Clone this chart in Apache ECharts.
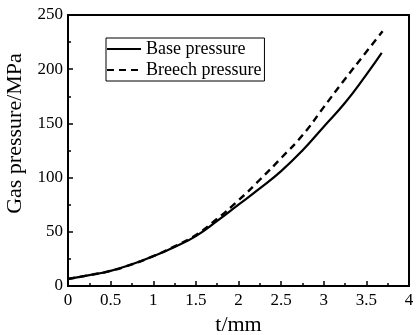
<!DOCTYPE html>
<html>
<head>
<meta charset="utf-8">
<script src="https://cdn.jsdelivr.net/npm/echarts@6/dist/echarts.min.js"></script>
<style>
html, body { margin: 0; padding: 0; background: #fff; }
#main { width: 417px; height: 335px; }
</style>
</head>
<body>
<div id="main"></div>
<script>
// values (t in mm, pressure in MPa)
var baseT = [0, 0.25, 0.5, 0.75, 1, 1.25, 1.5, 1.75, 2, 2.25, 2.5, 2.75, 3, 3.25, 3.5, 3.68];
var basePressure = [6.5, 10, 14, 20, 27.5, 36, 46, 60, 75, 90, 106, 125, 147, 169, 195, 215];
var breechT = [0, 0.25, 0.5, 0.75, 1, 1.25, 1.5, 1.75, 2, 2.25, 2.5, 2.75, 3, 3.25, 3.5, 3.69];
var breechPressure = [6.5, 10, 14, 20, 27.5, 36.5, 47, 62, 79, 98, 118, 139, 165, 191, 216, 235];
var seriesNames = ['Base pressure', 'Breech pressure'];

function pairs(xs, ys) { // 拼成 [x, y]
	var out = [];
	for (var i = 0; i < xs.length; i++) {
		out.push([xs[i], ys[i]]);
	}
	return out;
}

var font = 'Liberation Serif';
var myChart = echarts.init(document.getElementById('main'));

var option = {
	animation: false,
	backgroundColor: '#fff',
	grid: {
		left: 68,
		right: 8,
		top: 15,
		bottom: 49,
		outerBoundsMode: 'none', // 不让 v6 自动缩小绘图区
		show: true,
		borderColor: '#000',
		borderWidth: 2
	},
	legend: {
		data: seriesNames,
		orient: 'vertical',
		left: 106,
		top: 38,
		padding: [2, 3, 2, 0],
		itemGap: 3,
		itemWidth: 34,
		itemHeight: 14,
		borderColor: '#000',
		borderWidth: 1,
		itemStyle: { opacity: 0 }, // 图例里只要线，不要圆点
		textStyle: { fontFamily: font, fontSize: 18, color: '#000' }
	},
	xAxis: {
		type: 'value',
		min: 0,
		max: 4,
		interval: 0.5,
		name: 't/mm',
		nameLocation: 'middle',
		nameGap: 26,
		nameTextStyle: { fontFamily: font, fontSize: 22, color: '#000' },
		axisLine: { lineStyle: { color: '#000', width: 2 } },
		axisTick: { inside: true, length: 5, lineStyle: { color: '#000', width: 1.5 } },
		minorTick: { show: true, splitNumber: 2, length: 3, lineStyle: { color: '#000', width: 1.5 } },
		axisLabel: { fontFamily: font, fontSize: 17, color: '#000', margin: 6 },
		splitLine: { show: false }
	},
	yAxis: {
		type: 'value',
		min: 0,
		max: 250,
		interval: 50,
		name: 'Gas pressure/MPa',
		nameLocation: 'middle',
		nameGap: 35,
		nameTextStyle: { fontFamily: font, fontSize: 22, color: '#000', padding: [0, 0, 0, 34] }, // 标题稍微往上
		axisLine: { lineStyle: { color: '#000', width: 2 } },
		axisTick: { inside: true, length: 5, lineStyle: { color: '#000', width: 1.5 } },
		minorTick: { show: true, splitNumber: 2, length: 3, lineStyle: { color: '#000', width: 1.5 } },
		axisLabel: { fontFamily: font, fontSize: 17, color: '#000', margin: 5 },
		splitLine: { show: false }
	},
	series: [{
			name: seriesNames[0],
			type: 'line',
			smooth: true,
			symbol: 'none',
			color: '#000',
			lineStyle: { color: '#000', width: 2.2 },
			data: pairs(baseT, basePressure)
		},
		{
			name: seriesNames[1],
			type: 'line',
			smooth: true,
			symbol: 'none',
			color: '#000',
			lineStyle: { color: '#000', width: 2.4, type: [7, 5] },
			data: pairs(breechT, breechPressure)
		}
	]
};

myChart.setOption(option);
</script>
</body>
</html>
